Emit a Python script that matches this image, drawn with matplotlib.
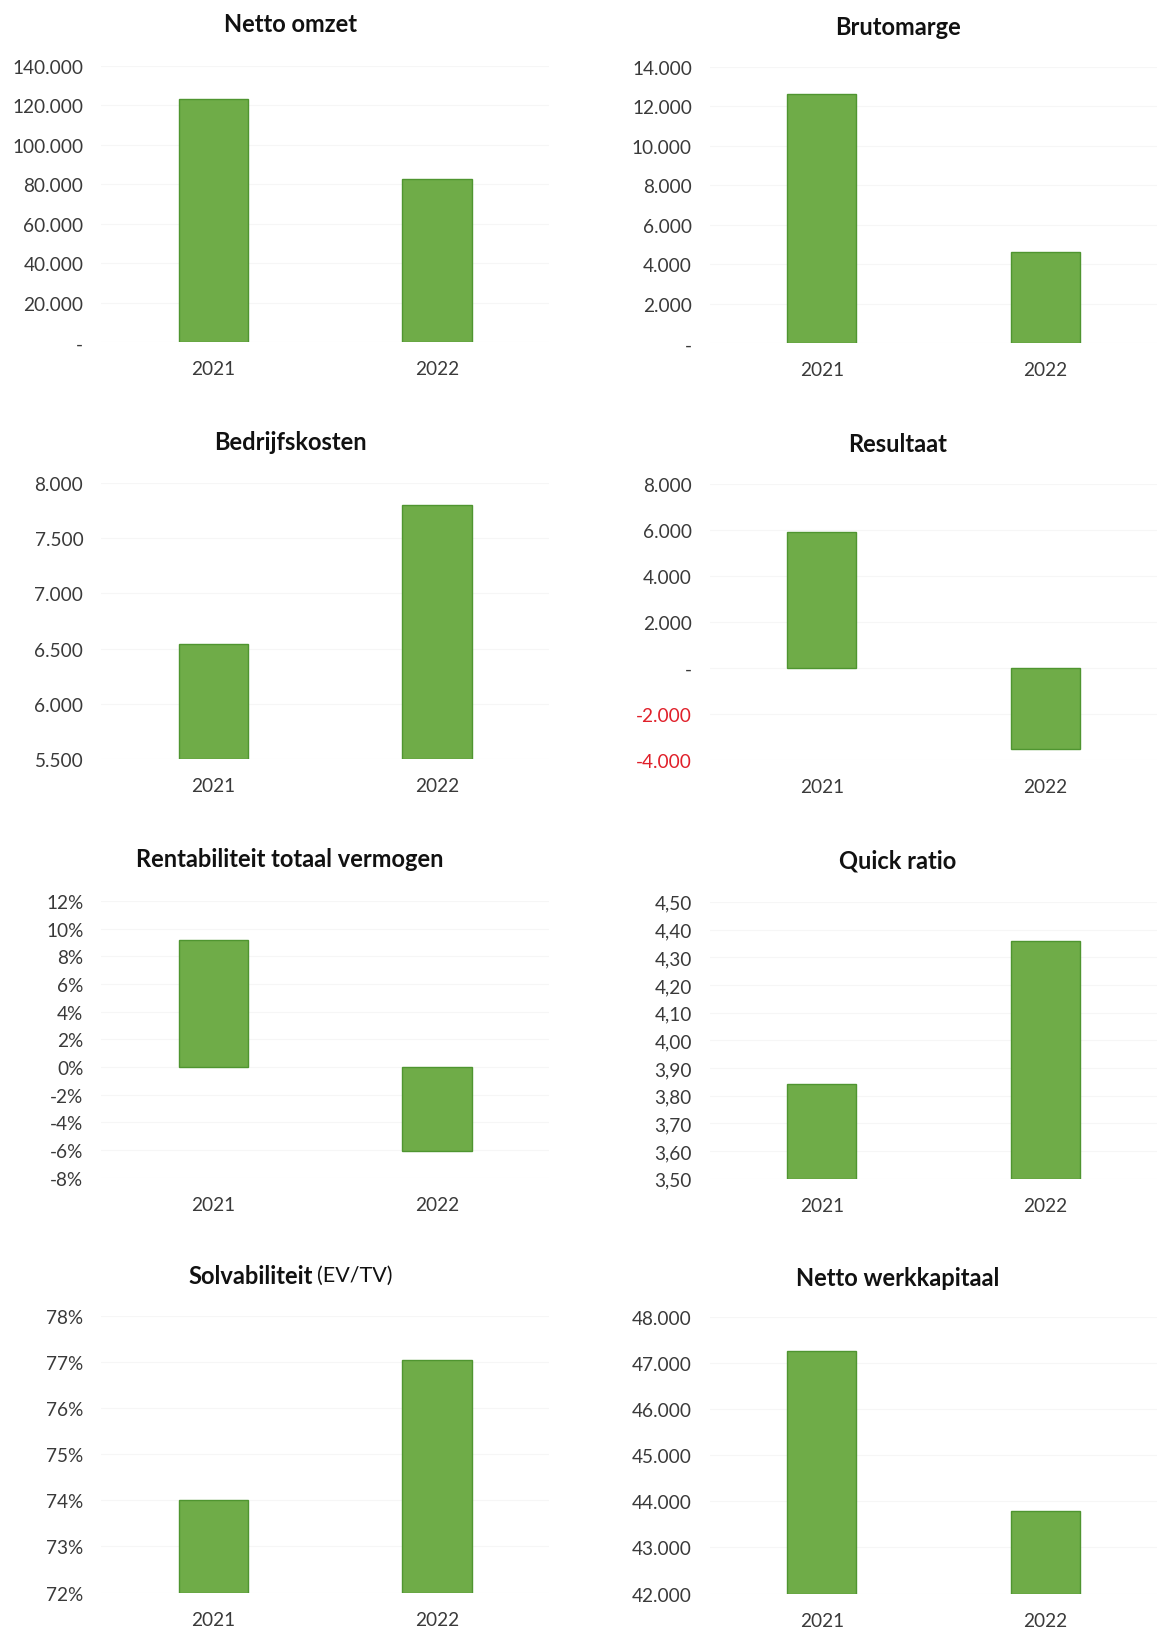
import numpy as np
import matplotlib.pyplot as plt
from matplotlib.ticker import FuncFormatter

plt.rcParams['font.family'] = ['Lato', 'DejaVu Sans']

# Data
jaren = ['2021', '2022']
netto_omzet = [123000, 82500]
brutomarge = [12600, 4600]
bedrijfskosten = [6545, 7800]
resultaat = [5900, -3500]
rentabiliteit = [9.2, -6.1]
quick_ratio = [3.84, 4.36]
solvabiliteit = [74.0, 77.05]
netto_werkkapitaal = [47270, 43800]

groen = '#6fac48'
rand = '#4f9530'
grijs = '#3a3a3a'


def duizend(v, pos):
    if abs(v) < 1e-9:
        return '-'
    return f'{v:,.0f}'.replace(',', '.')


def procent(v, pos):
    return f'{v:.0f}%'


def komma(v, pos):
    return f'{v:.2f}'.replace('.', ',')


# titel, waarden, basis, ylim, stap, formatter
grafieken = [
    ('Netto omzet', netto_omzet, 0, (0, 140000), 20000, duizend),
    ('Brutomarge', brutomarge, 0, (0, 14000), 2000, duizend),
    ('Bedrijfskosten', bedrijfskosten, 5500, (5500, 8000), 500, duizend),
    ('Resultaat', resultaat, 0, (-4000, 8000), 2000, duizend),
    ('Rentabiliteit totaal vermogen', rentabiliteit, 0, (-8, 12), 2, procent),
    ('Quick ratio', quick_ratio, 3.5, (3.5, 4.5), 0.1, komma),
    ('Solvabiliteit', solvabiliteit, 72, (72, 78), 1, procent),
    ('Netto werkkapitaal', netto_werkkapitaal, 42000, (42000, 48000), 1000, duizend),
]

fig = plt.figure(figsize=(11.66, 16.31), dpi=100)

W, H = 1121.0, 1568.0
links = [97.5, 682.5]
onder = [330, 731, 1133, 1532]
titel_y = [[24, 425, 826, 1227], [26, 427, 828, 1229]]
titel_x = [279, 863]

for i, (titel, waarden, basis, ylim, stap, fmt) in enumerate(grafieken):
    rij, kol = i // 2, i % 2
    ax = fig.add_axes([links[kol] / W, 1 - (onder[rij] + kol) / H, 430 / W, 266 / H])
    x = np.arange(len(jaren))
    hoogte = [w - basis for w in waarden]
    ax.bar(x, hoogte, bottom=basis, width=0.31, color=groen, edgecolor=rand, linewidth=1.0, zorder=3)
    ax.set_xlim(-0.5, 1.5)
    ax.set_ylim(*ylim)
    ax.set_yticks(np.arange(ylim[0], ylim[1] + stap / 2, stap))
    ax.yaxis.set_major_formatter(FuncFormatter(fmt))
    ax.set_xticks(x)
    ax.set_xticklabels(jaren)
    ax.grid(axis='y', color='#f6f6f6', linewidth=0.8, zorder=0)
    for s in ax.spines.values():
        s.set_visible(False)
    ax.tick_params(length=0, labelsize=13.7, colors=grijs)
    ax.tick_params(axis='y', pad=13)
    ax.tick_params(axis='x', pad=13)
    if titel == 'Resultaat':
        for lbl, v in zip(ax.get_yticklabels(), ax.get_yticks()):
            if v < 0:
                lbl.set_color('#e0202a')

    ty = 1 - titel_y[kol][rij] / H
    if titel == 'Solvabiliteit':
        fig.text(301 / W, ty, 'Solvabiliteit', ha='right', va='center', fontsize=17, fontweight='bold', color='#111111')
        fig.text(305 / W, ty, '(EV/TV)', ha='left', va='center', fontsize=15.5, color='#111111')
    else:
        fig.text(titel_x[kol] / W, ty, titel, ha='center', va='center', fontsize=17, fontweight='bold', color='#111111')

fig.savefig('out.png', dpi=100, facecolor='white')
